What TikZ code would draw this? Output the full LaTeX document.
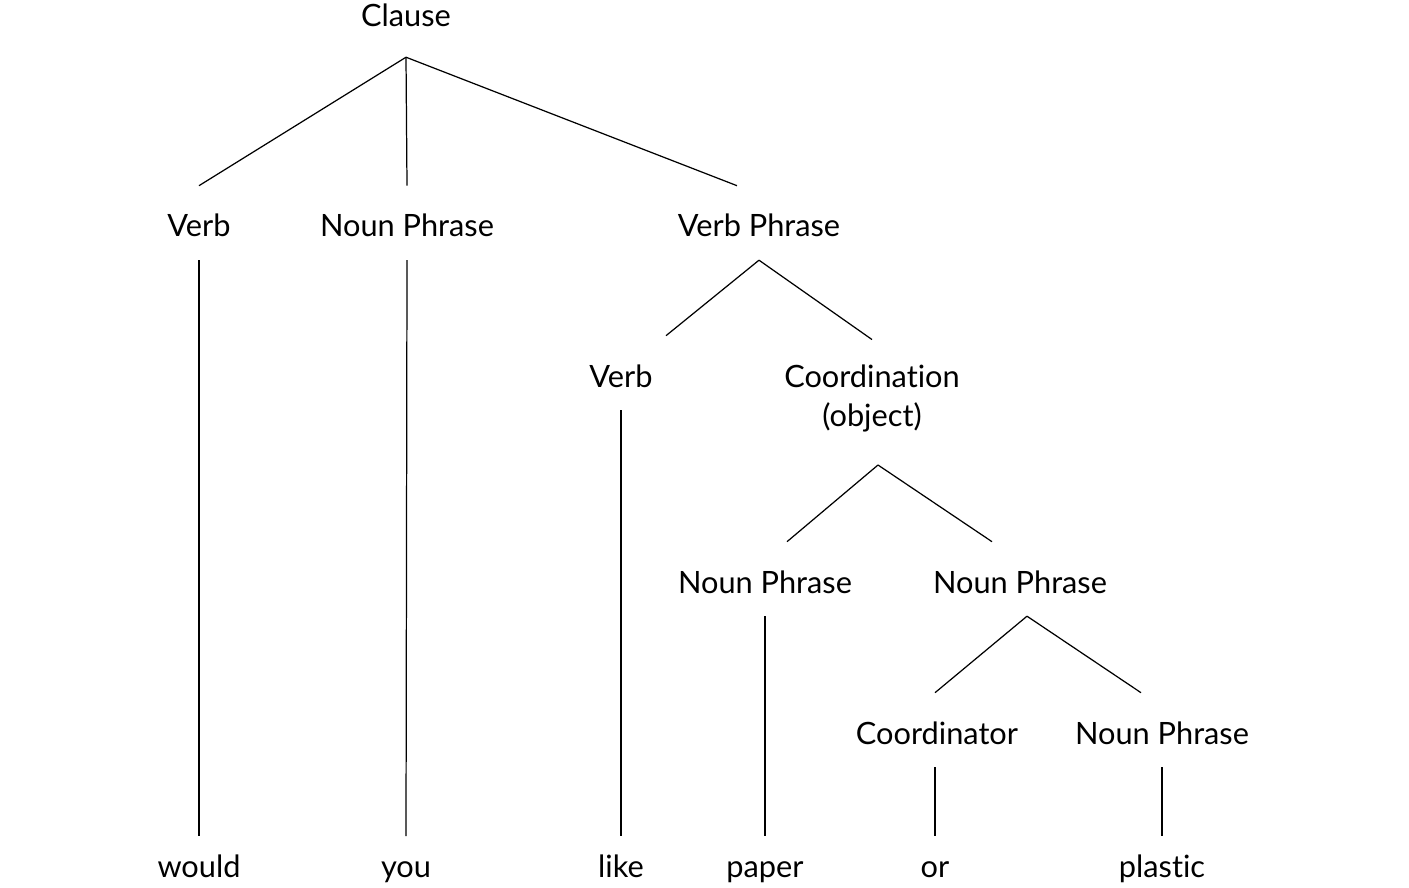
\documentclass[tikz,border=0pt]{standalone}
\usepackage{fontspec}
\setmainfont{Lato}[Ligatures=NoCommon]
\usetikzlibrary{calc}

\begin{document}
\begin{tikzpicture}[
  x=0.02cm,y=-0.02cm,
  cat/.style={anchor=base,inner sep=0pt,align=center,text height=29pt,text depth=13pt,font=\fontsize{17.5}{22}\selectfont},
  word/.style={cat,text height=23pt},
  branch/.style={draw=black,line width=0.7pt}
]
\useasboundingbox (0,0) rectangle (1409,888);
% categories
\node[cat,text depth=17pt] (clause) at (406,27) {Clause};
\node[cat] (verbA) at (199,237) {Verb};
\node[cat] (npA) at (407,237) {Noun Phrase};
\node[cat] (vp) at (759,237) {Verb Phrase};
\node[cat] (verbB) at (621,387) {Verb};
\node[cat,text height=49pt,text depth=22pt] (coord) at (872,426) {Coordination\\(object)};
\node[cat] (npB) at (765,593) {Noun Phrase};
\node[cat] (npC) at (1020,593) {Noun Phrase};
\node[cat] (conj) at (937,744) {Coordinator};
\node[cat] (npD) at (1162,744) {Noun Phrase};
% words
\node[word] (would) at (199,877) {would};
\node[word] (you) at (406,877) {you};
\node[word] (like) at (621,877) {like};
\node[word] (paper) at (765,877) {paper};
\node[word] (or) at (935,877) {or};
\node[word] (plastic) at (1162,877) {plastic};
% branches
\draw[branch] (clause.south) -- (verbA.north);
\draw[branch] (clause.south) -- (npA.north);
\draw[branch] (clause.south) -- ($(vp.north)+(-22,0)$);
\draw[branch] (verbA.south) -- (would.north);
\draw[branch] (npA.south) -- (you.north);
\draw[branch] (vp.south) -- ($(verbB.north)+(45,0)$);
\draw[branch] (vp.south) -- (coord.north);
\draw[branch] (verbB.south) -- (like.north);
\draw[branch] ($(coord.south)+(6,0)$) -- ($(npB.north)+(22,0)$);
\draw[branch] ($(coord.south)+(6,0)$) -- ($(npC.north)+(-28,0)$);
\draw[branch] (npB.south) -- (paper.north);
\draw[branch] ($(npC.south)+(7,0)$) -- ($(conj.north)+(-2,0)$);
\draw[branch] ($(npC.south)+(7,0)$) -- ($(npD.north)+(-21,0)$);
\draw[branch] ($(conj.south)+(-2,0)$) -- (or.north);
\draw[branch] (npD.south) -- (plastic.north);
\end{tikzpicture}
\end{document}
